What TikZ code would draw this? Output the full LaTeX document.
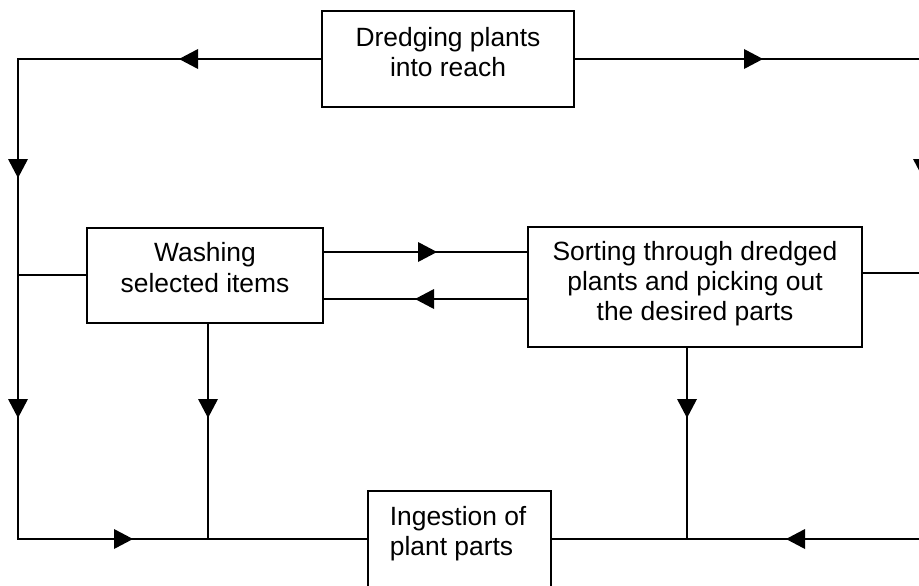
\documentclass[tikz,border=0pt]{standalone}
\usepackage{fontspec}
\setmainfont{Liberation Sans}
\begin{document}
\begin{tikzpicture}[x=0.75pt,y=-0.75pt,line width=1.3pt,
  box/.style={draw,line width=1.3pt,inner sep=0pt},
  lbl/.style={anchor=base,inner sep=0pt,font=\fontsize{19.8pt}{22pt}\selectfont},
  ah/.pic={\fill (1,0) -- (-18,10) -- (-18,-10) -- cycle;}]
\useasboundingbox (0,0) rectangle (919,585);
\fill[white] (0,0) rectangle (919,585);
% boxes
\node[box,minimum width=189pt,minimum height=72pt] (dredge) at (448,59) {};
\node[box,minimum width=177pt,minimum height=71.25pt] (wash) at (205,275.5) {};
\node[box,minimum width=250.5pt,minimum height=90pt] (sort) at (695,287) {};
\node[box,minimum width=137.25pt,minimum height=96.75pt] (ingest) at (459.5,555.5) {};
% texts
\node[lbl] (dredgeA) at (448,46) {Dredging plants};
\node[lbl] (dredgeB) at (448,76) {into reach};
\node[lbl] (washA) at (205,261.5) {Washing};
\node[lbl] (washB) at (205,292.5) {selected items};
\node[lbl] (sortA) at (695,260) {Sorting through dredged};
\node[lbl] (sortB) at (695,290) {plants and picking out};
\node[lbl] (sortC) at (695,320) {the desired parts};
\node[lbl,anchor=base west] (ingA) at (389,525) {Ingestion of};
\node[lbl,anchor=base west] (ingB) at (389,555) {plant parts};
% corners
\coordinate (tl) at (18,59);
\coordinate (bl) at (18,539);
\coordinate (tr) at (923,59);
\coordinate (br) at (923,539);
\path ([yshift=10.5pt]sort.east) coordinate (sr);
\path ([yshift=0.375pt]wash.west) coordinate (wl);
\path ([yshift=17.625pt]wash.east) coordinate (w1);
\path ([yshift=-17.625pt]wash.east) coordinate (w2);
\path ([xshift=2.25pt]wash.south) coordinate (ws);
\path ([xshift=-6pt]sort.south) coordinate (ss);
% connectors
\draw (dredge.west) -- (tl) -- (bl) -- (ingest.west |- bl);
\draw (dredge.east) -- (tr) -- (br) -- (ingest.east |- br);
\draw (wl) -- (wl -| tl);
\draw (sr) -- (sr -| tr);
\draw (w1) -- (w1 -| sort.west);
\draw (w2) -- (w2 -| sort.west);
\draw (ws) -- (ws |- bl);
\draw (ss) -- (ss |- bl);
% arrowheads
\pic[rotate=180] at (180,59) {ah};
\pic at (762,59) {ah};
\pic[rotate=-90] at (18,177) {ah};
\pic[rotate=-90] at (923,177) {ah};
\pic[rotate=-90] at (18,417) {ah};
\pic[rotate=-90] at (208,417) {ah};
\pic[rotate=-90] at (687,417) {ah};
\pic at (132,539) {ah};
\pic[rotate=180] at (787,539) {ah};
\pic at (436,252) {ah};
\pic[rotate=180] at (416,299) {ah};
\end{tikzpicture}
\end{document}
